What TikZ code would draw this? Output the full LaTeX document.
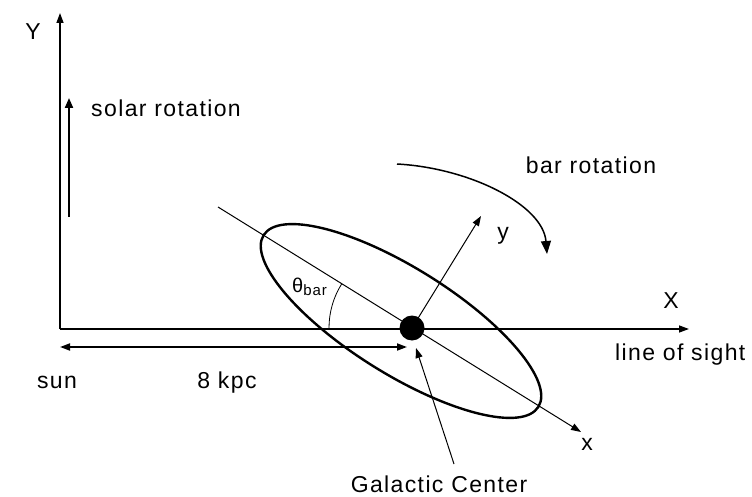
\documentclass[tikz,border=0pt]{standalone}
\usepackage{fontspec}
\setmainfont{Liberation Sans}[LetterSpace=6]
\usetikzlibrary{arrows.meta,shapes.geometric}
\begin{document}
\begin{tikzpicture}[x=1pt,y=-1pt,
  lbl/.style={anchor=base, inner sep=0pt, font=\fontsize{23}{27}\selectfont, text=black},
  axisline/.style={line width=1.3pt, -{Triangle[length=10pt,width=7pt]}},
  thinarrow/.style={line width=1pt, -{Triangle[length=10pt,width=7pt]}},
  thickarrow/.style={line width=2pt, -{Triangle[length=10pt,width=8pt]}},
  barshape/.style={ellipse, draw, line width=2.4pt, minimum width=324pt, minimum height=106pt, inner sep=0pt, rotate=-32},
  gcdot/.style={circle, fill, minimum size=25pt, inner sep=0pt}
]
\useasboundingbox (0,0) rectangle (752,497);

% coordinates
\coordinate (O) at (60,329);
\coordinate (Ytip) at (60,13);
\coordinate (Xtip) at (689,329);
\coordinate (sunL) at (60,347);
\coordinate (sunR) at (407,347);
\coordinate (solA) at (69,217);
\coordinate (solB) at (69,98);
\coordinate (barA) at (218,207);
\coordinate (barB) at (581,432);
\coordinate (ytip) at (481,216);
\coordinate (gcTail) at (454,464);
\coordinate (gcHead) at (416,348);
\coordinate (rotA) at (397,164);
\coordinate (rotB) at (547,254);

% bar ellipse
\node[barshape] (bar) at (401,321) {};

% axes
\draw[axisline] (O) -- (Ytip);
\draw[axisline] (O) -- (Xtip);

% bar axis x
\draw[thinarrow] (barA) -- (barB);

% galactic centre
\node[gcdot] (gc) at (412,328) {};

% bar axis y
\draw[thinarrow] (gc.center) -- (ytip);

% distance arrow
\draw[line width=1.8pt, {Triangle[length=10pt,width=7pt]}-{Triangle[length=10pt,width=7pt]}] (sunL) -- (sunR);

% solar rotation arrow
\draw[thickarrow] (solA) -- (solB);

% bar rotation curve
\draw[line width=1.5pt, -{Triangle[length=13pt,width=10pt]}] (rotA) .. controls (470,168) and (543,205) .. (rotB);

% galactic centre pointer
\draw[thinarrow] (gcTail) -- (gcHead);

% angle arc
\draw[line width=0.8pt] (gc.center) ++(180:83pt) arc[start angle=180, end angle=148, radius=83pt];

% labels
\node[lbl] (lY) at (33,40) {Y};
\node[lbl] (lX) at (671,308) {X};
\node[lbl] (lsol) at (166,117) {solar rotation};
\node[lbl] (lbar) at (591,174) {bar rotation};
\node[lbl] (ly) at (503,240) {y};
\node[lbl] (lx) at (587,450) {x};
\node[lbl, anchor=base west] (llos) at (615,360) {line of sight};
\node[lbl] (lsun) at (57,388) {sun};
\node[lbl] (lkpc) at (227,388) {8 kpc};
\node[lbl] (lgc) at (439,492) {Galactic Center};
\node[lbl, anchor=base west, font=\fontsize{20}{23}\selectfont] (lth) at (292,292) {θ\raisebox{-0.35ex}{\fontsize{15}{17}\selectfont bar}};
\end{tikzpicture}
\end{document}
